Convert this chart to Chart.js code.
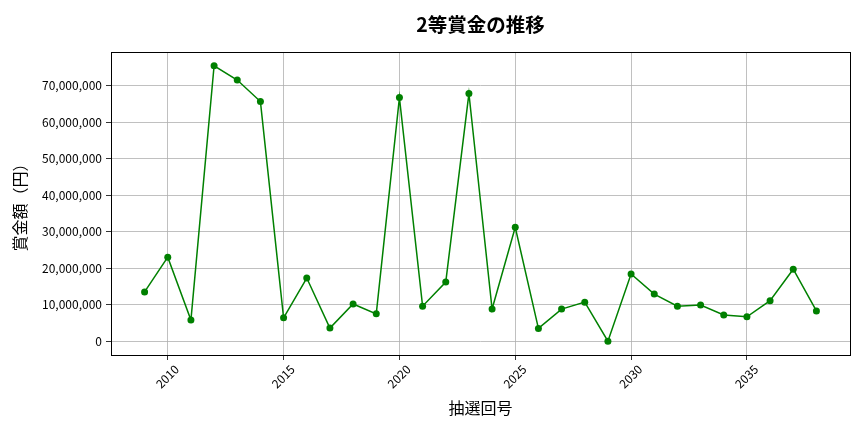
<!DOCTYPE html>
<html><head><meta charset="utf-8">
<script src="https://cdn.jsdelivr.net/npm/chart.js@4"></script>
<style>html,body{margin:0;padding:0;background:#fff}#wrap{width:864px;height:432px}</style>
</head><body><div id="wrap"><canvas id="c" width="864" height="432"></canvas></div>
<script>
const drawNumbers = [2009,2010,2011,2012,2013,2014,2015,2016,2017,2018,2019,2020,2021,2022,2023,2024,2025,2026,2027,2028,2029,2030,2031,2032,2033,2034,2035,2036,2037,2038];
const prizes = [13500000,23000000,5800000,75400000,71500000,65600000,6400000,17300000,3600000,10200000,7500000,66700000,9600000,16200000,67800000,8800000,31200000,3500000,8800000,10700000,0,18400000,12900000,9600000,9900000,7200000,6700000,11100000,19700000,8300000];
const xTicks = [2010,2015,2020,2025,2030,2035];
const yTicks = [0,10000000,20000000,30000000,40000000,50000000,60000000,70000000];
const titleText = '2等賞金の推移';
const xLabel = '抽選回号';
const yLabel = '賞金額（円）';

const FONT = '"Noto Sans CJK JP", "Noto Sans", sans-serif';
const frame = {
  id: 'frame',
  afterDraw(chart) {
    const {ctx, chartArea: a} = chart;
    ctx.save();
    ctx.strokeStyle = '#000';
    ctx.lineWidth = 1;
    ctx.strokeRect(Math.round(a.left)+0.5, Math.round(a.top)+0.5, Math.round(a.right-a.left), Math.round(a.bottom-a.top));
    ctx.fillStyle = '#000';
    ctx.font = 'bold 19.5px ' + FONT;
    ctx.textAlign = 'center';
    ctx.textBaseline = 'middle';
    ctx.fillText(titleText, (a.left + a.right) / 2, 25);
    ctx.restore();
  }
};

new Chart(document.getElementById('c'), {
  type: 'line',
  data: {
    datasets: [{
      data: drawNumbers.map((x, i) => ({x, y: prizes[i]})),
      borderColor: '#008000',
      backgroundColor: '#008000',
      borderWidth: 1.5,
      pointRadius: 3.5,
      pointHoverRadius: 3.5,
      pointBorderWidth: 0,
      tension: 0
    }]
  },
  options: {
    responsive: false,
    animation: false,
    devicePixelRatio: 1,
    layout: {padding: {top: 52, right: 14, left: 0, bottom: 0}},
    plugins: {legend: {display: false}, title: {display: false}, tooltip: {enabled: false}},
    scales: {
      x: {
        type: 'linear',
        min: 2007.55, max: 2039.45,
        afterBuildTicks: s => { s.ticks = xTicks.map(v => ({value: v})); },
        afterFit: s => { s.height = 77; },
        ticks: {minRotation: 45, maxRotation: 45, labelOffset: 9, color: '#000', font: {family: FONT, size: 12}, padding: 2, callback: v => String(v)},
        grid: {color: '#b0b0b0', lineWidth: 0.8, tickColor: '#000', tickLength: 5, drawOnChartArea: true},
        border: {display: false},
        title: {display: true, text: xLabel, color: '#000', font: {family: FONT, size: 16}, padding: {top: 8, bottom: 14}}
      },
      y: {
        type: 'linear',
        min: -3770000, max: 79170000,
        afterBuildTicks: s => { s.ticks = yTicks.map(v => ({value: v})); },
        afterFit: s => { s.width = 111; },
        ticks: {color: '#000', font: {family: FONT, size: 12}, padding: 4, callback: v => v.toLocaleString('en-US')},
        grid: {color: '#b0b0b0', lineWidth: 0.8, tickColor: '#000', tickLength: 5},
        border: {display: false},
        title: {display: true, text: yLabel, color: '#000', font: {family: FONT, size: 16}, padding: {top: 10, bottom: 6}}
      }
    }
  },
  plugins: [frame]
});
</script></body></html>
